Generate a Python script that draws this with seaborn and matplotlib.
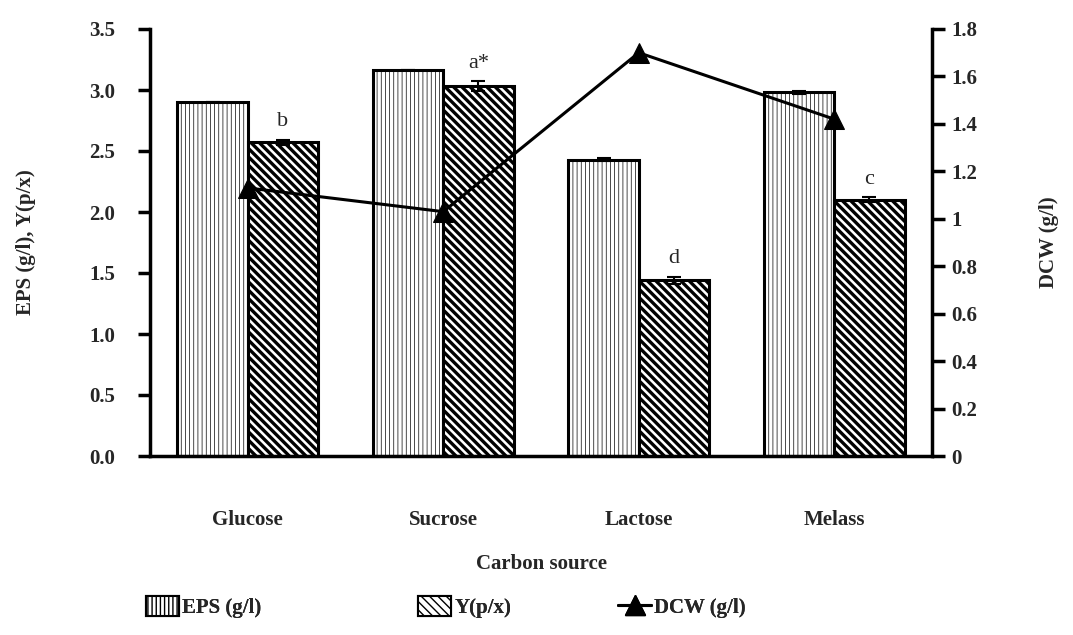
import numpy as np
import pandas as pd
import matplotlib
matplotlib.use("Agg")
import matplotlib.pyplot as plt
import seaborn as sns
from matplotlib.patches import Patch
from matplotlib.lines import Line2D

categories = ["Glucose", "Sucrose", "Lactose", "Melass"]
eps = [2.90, 3.16, 2.43, 2.98]
eps_err = [0.0, 0.0, 0.01, 0.01]
ypx = [2.57, 3.03, 1.44, 2.10]
ypx_err = [0.02, 0.04, 0.03, 0.02]
dcw = [1.13, 1.03, 1.70, 1.42]
letters = ["b", "a*", "d", "c"]
left_ticks = [0.0, 0.5, 1.0, 1.5, 2.0, 2.5, 3.0, 3.5]
right_ticks = [0, 0.2, 0.4, 0.6, 0.8, 1, 1.2, 1.4, 1.6, 1.8]

sns.set_theme(style="white")
plt.rcParams["font.family"] = ["Liberation Serif", "DejaVu Serif"]
plt.rcParams["hatch.linewidth"] = 1.0

df = pd.DataFrame({
    "Carbon source": categories * 2,
    "value": eps + ypx,
    "series": ["EPS (g/l)"] * 4 + ["Y(p/x)"] * 4,
})

FS = 15

fig = plt.figure(figsize=(10.73, 6.35), dpi=100)
ax = fig.add_axes([150 / 1073, 1 - 456 / 635, (932 - 150) / 1073, (456 - 29) / 635])

sns.barplot(data=df, x="Carbon source", y="value", hue="series", order=categories,
            hue_order=["EPS (g/l)", "Y(p/x)"], palette=["white", "white"],
            width=0.72, errorbar=None, legend=False, ax=ax, zorder=2)

n = len(categories)
eps_patches = ax.patches[:n]
y_patches = ax.patches[n:2 * n]
for p in eps_patches:
    p.set_edgecolor("black")
    p.set_linewidth(2.2)
    p.set_hatch("||||")
    try:
        p.set_hatch_linewidth(0.5)
    except Exception:
        pass
for p in y_patches:
    p.set_edgecolor("black")
    p.set_linewidth(2.2)
    p.set_hatch("\\\\\\\\")
    try:
        p.set_hatch_linewidth(2.4)
    except Exception:
        pass

ex = [p.get_x() + p.get_width() / 2 for p in eps_patches]
yx = [p.get_x() + p.get_width() / 2 for p in y_patches]
ax.errorbar(ex, eps, yerr=eps_err, fmt="none", ecolor="black", elinewidth=1.5, capsize=5, capthick=1.5, zorder=3)
ax.errorbar(yx, ypx, yerr=ypx_err, fmt="none", ecolor="black", elinewidth=1.5, capsize=5, capthick=1.5, zorder=3)
for x, v, e, t in zip(yx, ypx, ypx_err, letters):
    ax.text(x, v + e + 0.07, t, ha="center", va="bottom", fontsize=16, family=["Liberation Serif"])

ax.set_xlim(-0.5, n - 0.5)
ax.set_ylim(0, 3.5)
ax.set_yticks(left_ticks)
ax.set_yticklabels([f"{t:.1f}" for t in left_ticks], fontweight="bold", fontsize=FS)
ax.set_xticks(range(n))
ax.set_xticklabels(categories, fontweight="bold", fontsize=FS)
ax.set_xticks(np.arange(-0.5, n, 1.0), minor=True)
ax.tick_params(axis="x", which="major", length=0, pad=39)
ax.tick_params(axis="x", which="minor", length=9, width=2.5, direction="out", color="black")
ax.tick_params(axis="y", length=9, width=2.5, direction="out", color="black", pad=16, left=True)
ax.set_xlabel("Carbon source", fontweight="bold", fontsize=FS, labelpad=17)
ax.set_ylabel("EPS (g/l), Y(p/x)", fontweight="bold", fontsize=FS, labelpad=38)
for s in ["top", "right"]:
    ax.spines[s].set_visible(False)
for s in ["left", "bottom"]:
    ax.spines[s].set_linewidth(2.5)
    ax.spines[s].set_color("black")

ax2 = ax.twinx()
sns.lineplot(x=list(range(n)), y=dcw, ax=ax2, color="black", linewidth=2.2,
             marker="^", markersize=15, markeredgecolor="black", markerfacecolor="black", zorder=4)
ax2.set_ylim(0, 1.8)
ax2.set_yticks(right_ticks)
ax2.set_yticklabels([f"{t:g}" for t in right_ticks], fontweight="bold", fontsize=FS)
ax2.tick_params(axis="y", length=9, width=2.5, direction="out", color="black", pad=5, right=True)
ax2.set_ylabel("DCW (g/l)", fontweight="bold", fontsize=FS, labelpad=44, rotation=90)
for s in ["top", "left", "bottom"]:
    ax2.spines[s].set_visible(False)
ax2.spines["right"].set_linewidth(2.5)
ax2.spines["right"].set_color("black")
ax2.set_xlim(-0.5, n - 0.5)

h1 = Patch(facecolor="white", edgecolor="black", hatch="||||", linewidth=1.5, label="EPS (g/l)")
h2 = Patch(facecolor="white", edgecolor="black", hatch="\\\\\\\\", linewidth=1.5, label="Y(p/x)")
h3 = Line2D([], [], color="black", linewidth=2.2, marker="^", markersize=14, label="DCW (g/l)")
leg_y = 1 - 607 / 635
for h, xl in zip([h1, h2, h3], [146, 418, 618]):
    lg = fig.legend(handles=[h], loc="center left", bbox_to_anchor=(xl / 1073, leg_y),
                    frameon=False, prop={"weight": "bold", "size": FS}, handlelength=1.6,
                    handleheight=1.1, handletextpad=0.15, borderpad=0, borderaxespad=0)
    fig.add_artist(lg)

fig.savefig("out.png", dpi=100)
